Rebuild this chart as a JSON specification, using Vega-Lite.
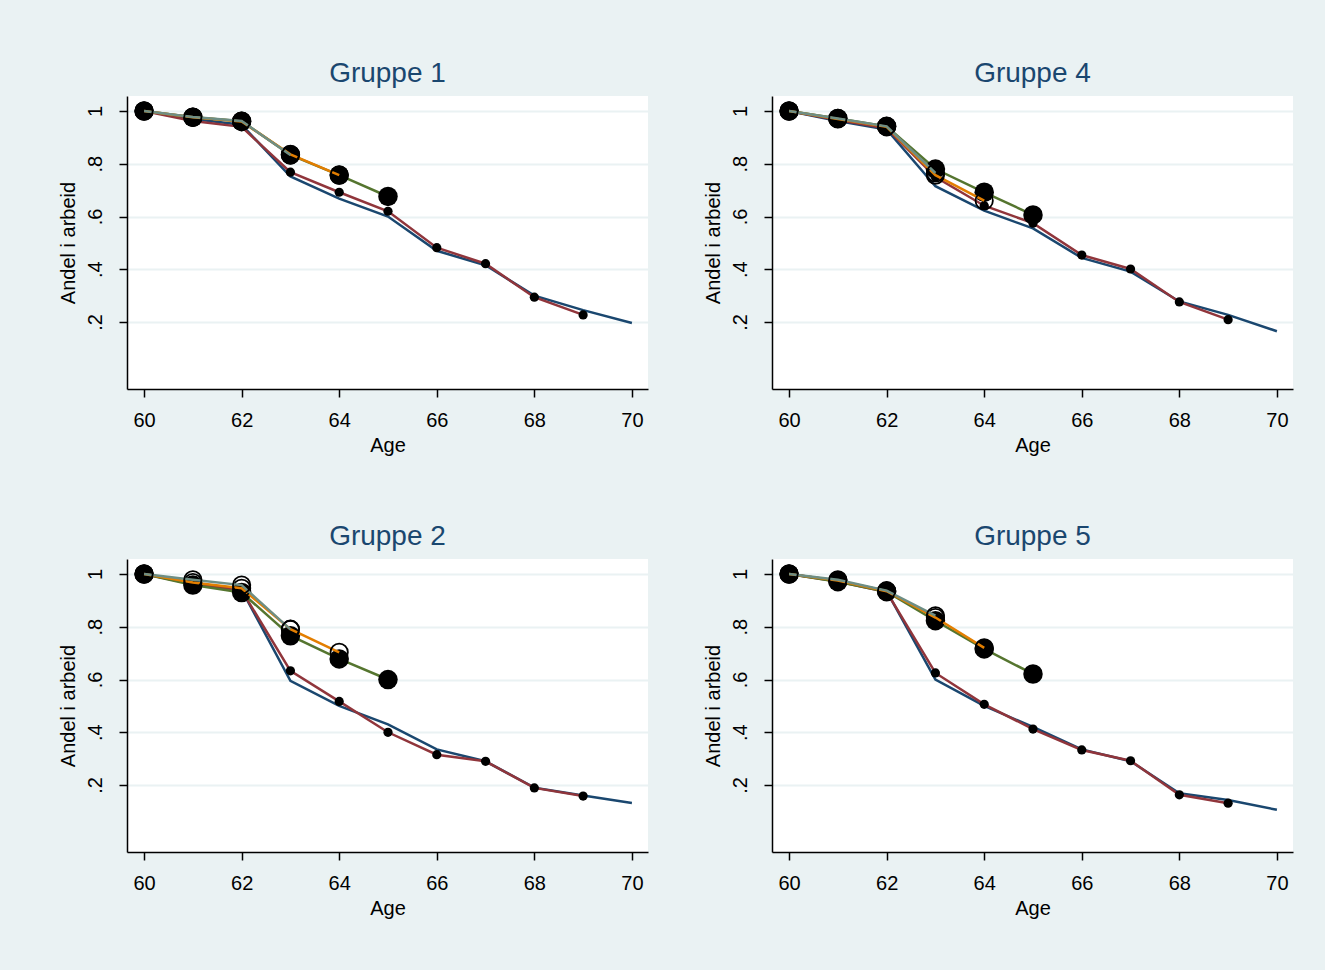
{
  "$schema": "https://vega.github.io/schema/vega-lite/v6.json",
  "background": "#EAF2F3",
  "padding": {"left": 58, "top": 60, "right": 32, "bottom": 53},
  "data": {"values": [
    {"g":"Gruppe 1","s":"navy","age":60,"v":1.0},{"g":"Gruppe 1","s":"navy","age":61,"v":0.970},{"g":"Gruppe 1","s":"navy","age":62,"v":0.948},{"g":"Gruppe 1","s":"navy","age":63,"v":0.752},{"g":"Gruppe 1","s":"navy","age":64,"v":0.668},{"g":"Gruppe 1","s":"navy","age":65,"v":0.600},{"g":"Gruppe 1","s":"navy","age":66,"v":0.470},{"g":"Gruppe 1","s":"navy","age":67,"v":0.415},{"g":"Gruppe 1","s":"navy","age":68,"v":0.300},{"g":"Gruppe 1","s":"navy","age":69,"v":0.245},{"g":"Gruppe 1","s":"navy","age":70,"v":0.196},
    {"g":"Gruppe 1","s":"maroon","age":60,"v":1.0},{"g":"Gruppe 1","s":"maroon","age":61,"v":0.962},{"g":"Gruppe 1","s":"maroon","age":62,"v":0.940},{"g":"Gruppe 1","s":"maroon","age":63,"v":0.768},{"g":"Gruppe 1","s":"maroon","age":64,"v":0.692},{"g":"Gruppe 1","s":"maroon","age":65,"v":0.620},{"g":"Gruppe 1","s":"maroon","age":66,"v":0.482},{"g":"Gruppe 1","s":"maroon","age":67,"v":0.421},{"g":"Gruppe 1","s":"maroon","age":68,"v":0.294},{"g":"Gruppe 1","s":"maroon","age":69,"v":0.227},
    {"g":"Gruppe 1","s":"green","age":60,"v":1.0},{"g":"Gruppe 1","s":"green","age":61,"v":0.976},{"g":"Gruppe 1","s":"green","age":62,"v":0.961},{"g":"Gruppe 1","s":"green","age":63,"v":0.834},{"g":"Gruppe 1","s":"green","age":64,"v":0.757},{"g":"Gruppe 1","s":"green","age":65,"v":0.676},
    {"g":"Gruppe 1","s":"orange","age":60,"v":1.0},{"g":"Gruppe 1","s":"orange","age":61,"v":0.976},{"g":"Gruppe 1","s":"orange","age":62,"v":0.960},{"g":"Gruppe 1","s":"orange","age":63,"v":0.836},{"g":"Gruppe 1","s":"orange","age":64,"v":0.757},
    {"g":"Gruppe 1","s":"teal","age":60,"v":1.0},{"g":"Gruppe 1","s":"teal","age":61,"v":0.977},{"g":"Gruppe 1","s":"teal","age":62,"v":0.962},{"g":"Gruppe 1","s":"teal","age":63,"v":0.833},

    {"g":"Gruppe 4","s":"navy","age":60,"v":1.0},{"g":"Gruppe 4","s":"navy","age":61,"v":0.962},{"g":"Gruppe 4","s":"navy","age":62,"v":0.930},{"g":"Gruppe 4","s":"navy","age":63,"v":0.715},{"g":"Gruppe 4","s":"navy","age":64,"v":0.622},{"g":"Gruppe 4","s":"navy","age":65,"v":0.555},{"g":"Gruppe 4","s":"navy","age":66,"v":0.443},{"g":"Gruppe 4","s":"navy","age":67,"v":0.391},{"g":"Gruppe 4","s":"navy","age":68,"v":0.278},{"g":"Gruppe 4","s":"navy","age":69,"v":0.227},{"g":"Gruppe 4","s":"navy","age":70,"v":0.165},
    {"g":"Gruppe 4","s":"maroon","age":60,"v":1.0},{"g":"Gruppe 4","s":"maroon","age":61,"v":0.966},{"g":"Gruppe 4","s":"maroon","age":62,"v":0.935},{"g":"Gruppe 4","s":"maroon","age":63,"v":0.750},{"g":"Gruppe 4","s":"maroon","age":64,"v":0.641},{"g":"Gruppe 4","s":"maroon","age":65,"v":0.575},{"g":"Gruppe 4","s":"maroon","age":66,"v":0.454},{"g":"Gruppe 4","s":"maroon","age":67,"v":0.401},{"g":"Gruppe 4","s":"maroon","age":68,"v":0.276},{"g":"Gruppe 4","s":"maroon","age":69,"v":0.209},
    {"g":"Gruppe 4","s":"green","age":60,"v":1.0},{"g":"Gruppe 4","s":"green","age":61,"v":0.972},{"g":"Gruppe 4","s":"green","age":62,"v":0.942},{"g":"Gruppe 4","s":"green","age":63,"v":0.780},{"g":"Gruppe 4","s":"green","age":64,"v":0.692},{"g":"Gruppe 4","s":"green","age":65,"v":0.606},
    {"g":"Gruppe 4","s":"orange","age":60,"v":1.0},{"g":"Gruppe 4","s":"orange","age":61,"v":0.970},{"g":"Gruppe 4","s":"orange","age":62,"v":0.940},{"g":"Gruppe 4","s":"orange","age":63,"v":0.757},{"g":"Gruppe 4","s":"orange","age":64,"v":0.660},
    {"g":"Gruppe 4","s":"teal","age":60,"v":1.0},{"g":"Gruppe 4","s":"teal","age":61,"v":0.972},{"g":"Gruppe 4","s":"teal","age":62,"v":0.942},{"g":"Gruppe 4","s":"teal","age":63,"v":0.765},

    {"g":"Gruppe 2","s":"navy","age":60,"v":1.0},{"g":"Gruppe 2","s":"navy","age":61,"v":0.965},{"g":"Gruppe 2","s":"navy","age":62,"v":0.940},{"g":"Gruppe 2","s":"navy","age":63,"v":0.595},{"g":"Gruppe 2","s":"navy","age":64,"v":0.500},{"g":"Gruppe 2","s":"navy","age":65,"v":0.430},{"g":"Gruppe 2","s":"navy","age":66,"v":0.335},{"g":"Gruppe 2","s":"navy","age":67,"v":0.290},{"g":"Gruppe 2","s":"navy","age":68,"v":0.190},{"g":"Gruppe 2","s":"navy","age":69,"v":0.160},{"g":"Gruppe 2","s":"navy","age":70,"v":0.132},
    {"g":"Gruppe 2","s":"maroon","age":60,"v":1.0},{"g":"Gruppe 2","s":"maroon","age":61,"v":0.962},{"g":"Gruppe 2","s":"maroon","age":62,"v":0.938},{"g":"Gruppe 2","s":"maroon","age":63,"v":0.633},{"g":"Gruppe 2","s":"maroon","age":64,"v":0.517},{"g":"Gruppe 2","s":"maroon","age":65,"v":0.400},{"g":"Gruppe 2","s":"maroon","age":66,"v":0.315},{"g":"Gruppe 2","s":"maroon","age":67,"v":0.290},{"g":"Gruppe 2","s":"maroon","age":68,"v":0.189},{"g":"Gruppe 2","s":"maroon","age":69,"v":0.158},
    {"g":"Gruppe 2","s":"green","age":60,"v":1.0},{"g":"Gruppe 2","s":"green","age":61,"v":0.958},{"g":"Gruppe 2","s":"green","age":62,"v":0.930},{"g":"Gruppe 2","s":"green","age":63,"v":0.766},{"g":"Gruppe 2","s":"green","age":64,"v":0.678},{"g":"Gruppe 2","s":"green","age":65,"v":0.600},
    {"g":"Gruppe 2","s":"orange","age":60,"v":1.0},{"g":"Gruppe 2","s":"orange","age":61,"v":0.968},{"g":"Gruppe 2","s":"orange","age":62,"v":0.946},{"g":"Gruppe 2","s":"orange","age":63,"v":0.791},{"g":"Gruppe 2","s":"orange","age":64,"v":0.703},
    {"g":"Gruppe 2","s":"teal","age":60,"v":1.0},{"g":"Gruppe 2","s":"teal","age":61,"v":0.978},{"g":"Gruppe 2","s":"teal","age":62,"v":0.958},{"g":"Gruppe 2","s":"teal","age":63,"v":0.790},

    {"g":"Gruppe 5","s":"navy","age":60,"v":1.0},{"g":"Gruppe 5","s":"navy","age":61,"v":0.975},{"g":"Gruppe 5","s":"navy","age":62,"v":0.935},{"g":"Gruppe 5","s":"navy","age":63,"v":0.600},{"g":"Gruppe 5","s":"navy","age":64,"v":0.500},{"g":"Gruppe 5","s":"navy","age":65,"v":0.420},{"g":"Gruppe 5","s":"navy","age":66,"v":0.335},{"g":"Gruppe 5","s":"navy","age":67,"v":0.290},{"g":"Gruppe 5","s":"navy","age":68,"v":0.169},{"g":"Gruppe 5","s":"navy","age":69,"v":0.143},{"g":"Gruppe 5","s":"navy","age":70,"v":0.106},
    {"g":"Gruppe 5","s":"maroon","age":60,"v":1.0},{"g":"Gruppe 5","s":"maroon","age":61,"v":0.972},{"g":"Gruppe 5","s":"maroon","age":62,"v":0.932},{"g":"Gruppe 5","s":"maroon","age":63,"v":0.625},{"g":"Gruppe 5","s":"maroon","age":64,"v":0.506},{"g":"Gruppe 5","s":"maroon","age":65,"v":0.412},{"g":"Gruppe 5","s":"maroon","age":66,"v":0.333},{"g":"Gruppe 5","s":"maroon","age":67,"v":0.292},{"g":"Gruppe 5","s":"maroon","age":68,"v":0.163},{"g":"Gruppe 5","s":"maroon","age":69,"v":0.131},
    {"g":"Gruppe 5","s":"green","age":60,"v":1.0},{"g":"Gruppe 5","s":"green","age":61,"v":0.971},{"g":"Gruppe 5","s":"green","age":62,"v":0.933},{"g":"Gruppe 5","s":"green","age":63,"v":0.823},{"g":"Gruppe 5","s":"green","age":64,"v":0.716},{"g":"Gruppe 5","s":"green","age":65,"v":0.621},
    {"g":"Gruppe 5","s":"orange","age":60,"v":1.0},{"g":"Gruppe 5","s":"orange","age":61,"v":0.975},{"g":"Gruppe 5","s":"orange","age":62,"v":0.935},{"g":"Gruppe 5","s":"orange","age":63,"v":0.835},{"g":"Gruppe 5","s":"orange","age":64,"v":0.720},
    {"g":"Gruppe 5","s":"teal","age":60,"v":1.0},{"g":"Gruppe 5","s":"teal","age":61,"v":0.978},{"g":"Gruppe 5","s":"teal","age":62,"v":0.937},{"g":"Gruppe 5","s":"teal","age":63,"v":0.842}
  ]},
  "facet": {
    "field": "g", "type": "nominal",
    "sort": ["Gruppe 1", "Gruppe 4", "Gruppe 2", "Gruppe 5"],
    "header": {"title": null, "labelFont": "Liberation Sans", "labelFontSize": 28, "labelColor": "#1a476f", "labelPadding": 8}
  },
  "columns": 2,
  "bounds": "flush",
  "spacing": {"row": 170, "column": 124},
  "resolve": {"axis": {"x": "independent", "y": "independent"}},
  "spec": {
    "width": 521,
    "height": 293,
    "encoding": {
      "x": {"field": "age", "type": "quantitative",
            "scale": {"domain": [59.65, 70.33], "nice": false, "zero": false},
            "axis": {"values": [60, 62, 64, 66, 68, 70], "title": "Age", "grid": false, "labelPadding": 13, "titlePadding": 5}},
      "y": {"field": "v", "type": "quantitative",
            "scale": {"domain": [-0.054, 1.057], "nice": false, "zero": false},
            "axis": {"values": [0.2, 0.4, 0.6, 0.8, 1], "title": "Andel i arbeid", "grid": true,
                     "gridColor": "#EAF2F3", "gridWidth": 2,
                     "labelAngle": -90, "labelAlign": "center", "labelBaseline": "bottom", "labelPadding": 14,
                     "titlePadding": 7,
                     "labelExpr": "datum.value == 1 ? '1' : replace(format(datum.value, '.1f'), '0.', '.')"}}
    },
    "layer": [
      {"transform": [{"filter": "datum.s == 'navy'"}], "mark": {"type": "line", "color": "#1a476f", "strokeWidth": 2.5}},
      {"transform": [{"filter": "datum.s == 'maroon'"}], "mark": {"type": "line", "color": "#90353b", "strokeWidth": 2.5}},
      {"transform": [{"filter": "datum.s == 'maroon'"}], "mark": {"type": "circle", "color": "black", "opacity": 1, "size": 85}},
      {"transform": [{"filter": "datum.s == 'green'"}], "mark": {"type": "line", "color": "#55752f", "strokeWidth": 2.5}},
      {"transform": [{"filter": "datum.s == 'green'"}], "mark": {"type": "circle", "color": "black", "opacity": 1, "size": 380}},
      {"transform": [{"filter": "datum.s == 'orange'"}], "mark": {"type": "line", "color": "#e37e00", "strokeWidth": 2.5}},
      {"transform": [{"filter": "datum.s == 'orange'"}], "mark": {"type": "point", "shape": "circle", "filled": false, "stroke": "black", "strokeWidth": 1.8, "opacity": 1, "size": 300}},
      {"transform": [{"filter": "datum.s == 'teal'"}], "mark": {"type": "line", "color": "#6e8e84", "strokeWidth": 2.5}},
      {"transform": [{"filter": "datum.s == 'teal'"}], "mark": {"type": "point", "shape": "circle", "filled": false, "stroke": "black", "strokeWidth": 1.8, "opacity": 1, "size": 300}}
    ]
  },
  "config": {
    "font": "Liberation Sans",
    "view": {"fill": "white", "stroke": null},
    "axis": {
      "domainColor": "black", "domainWidth": 1.5, "tickColor": "black", "tickWidth": 1.5, "tickSize": 8,
      "labelFont": "Liberation Sans", "labelFontSize": 20, "labelColor": "black",
      "titleFont": "Liberation Sans", "titleFontSize": 20, "titleFontWeight": "normal", "titleColor": "black"
    }
  }
}
